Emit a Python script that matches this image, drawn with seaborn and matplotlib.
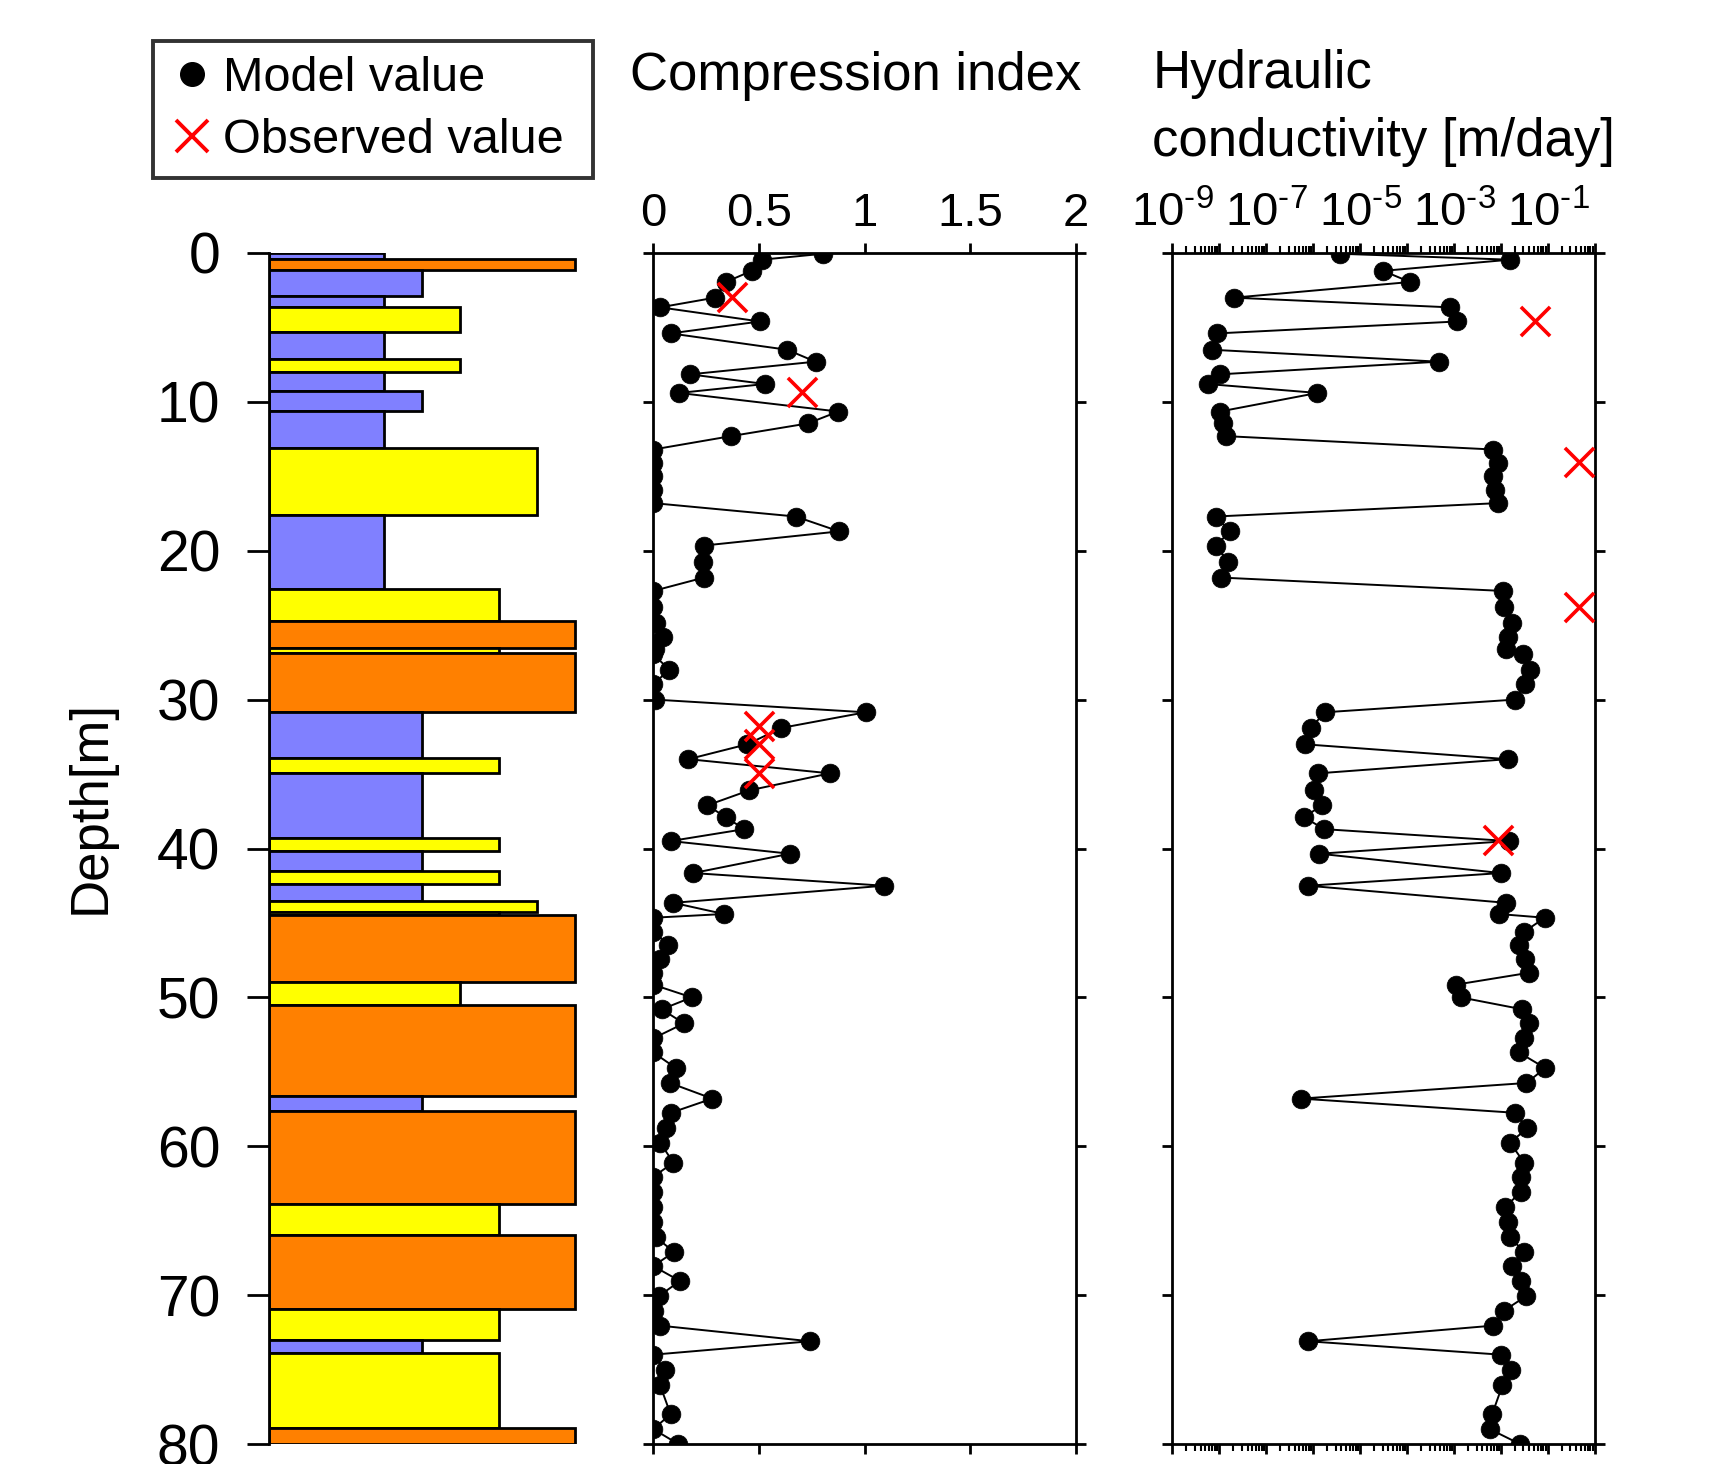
import matplotlib
matplotlib.use('Agg')
import matplotlib.pyplot as plt
from matplotlib.lines import Line2D
from matplotlib.ticker import LogLocator, NullFormatter
import seaborn as sns
import numpy as np

sns.set_style('ticks')
plt.rcParams['font.family'] = ['Liberation Sans', 'DejaVu Sans']
plt.rcParams['mathtext.fontset'] = 'custom'
plt.rcParams['mathtext.rm'] = 'Liberation Sans'
plt.rcParams['mathtext.it'] = 'Liberation Sans:italic'
plt.rcParams['mathtext.bf'] = 'Liberation Sans:bold'
# plain black text and axes like the original
for key in ['text.color', 'axes.labelcolor', 'xtick.color', 'ytick.color', 'axes.edgecolor']:
    plt.rcParams[key] = 'black'

# soil column: layer top depth [m] and grain class (3-4 clay, 5-7 sand, 8 gravel)
layer_top = [0.0, 0.4, 1.15, 2.9, 3.6, 5.3, 7.1, 8.0, 9.25, 10.6,
             13.1, 17.6, 22.6, 24.7, 26.5, 26.9, 30.8, 33.9, 34.9, 39.3,
             40.2, 41.5, 42.4, 43.5, 44.25, 44.5, 49.0, 50.5, 56.6, 57.6,
             63.9, 65.95, 70.9, 73.0, 73.9, 78.9]
layer_class = [3, 8, 4, 3, 5, 3, 5, 3, 4, 3,
               7, 3, 6, 8, 6, 8, 4, 6, 4, 6,
               4, 6, 4, 7, 6, 8, 5, 8, 4, 8,
               6, 8, 6, 4, 6, 8]
bottom_depth = 80.0
class_color = {3: '#8080FF', 4: '#8080FF', 5: '#FFFF00', 6: '#FFFF00',
               7: '#FFFF00', 8: '#FF8000'}

# model sample depths [m]
depth = [0.05, 0.45, 1.2, 1.95, 3.0, 3.65, 4.6, 5.4, 6.5, 7.3,
         8.15, 8.8, 9.4, 10.65, 11.45, 12.3, 13.2, 14.1, 15.0, 15.9,
         16.8, 17.7, 18.7, 19.65, 20.75, 21.8, 22.7, 23.8, 24.85, 25.8,
         26.6, 26.95, 28.0, 28.95, 30.0, 30.85, 31.9, 33.0, 34.0, 34.95,
         36.1, 37.1, 37.9, 38.7, 39.5, 40.35, 41.65, 42.5, 43.65, 44.4,
         44.65, 45.6, 46.45, 47.4, 48.35, 49.15, 50.0, 50.8, 51.75, 52.75,
         53.7, 54.75, 55.75, 56.8, 57.75, 58.8, 59.75, 61.1, 62.05, 63.1,
         64.05, 65.1, 66.1, 67.1, 68.05, 69.05, 70.05, 71.05, 72.05, 73.1,
         74.0, 75.05, 76.05, 78.0, 79.0, 80.0]

cc_model = [0.805, 0.513, 0.466, 0.343, 0.292, 0.032, 0.505, 0.082, 0.634, 0.768,
            0.174, 0.529, 0.122, 0.876, 0.731, 0.368, 0.0, 0.0, 0.0, 0.0,
            0.0, 0.674, 0.88, 0.24, 0.234, 0.24, 0.0, 0.0, 0.011, 0.047,
            0.008, 0.0, 0.076, 0.0, 0.01, 1.005, 0.607, 0.445, 0.166, 0.836,
            0.453, 0.256, 0.343, 0.431, 0.082, 0.647, 0.189, 1.092, 0.095, 0.335,
            0.0, 0.0, 0.071, 0.032, 0.0, 0.0, 0.182, 0.04, 0.145, 0.0,
            0.0, 0.107, 0.079, 0.279, 0.084, 0.06, 0.032, 0.095, 0.0, 0.0,
            0.0, 0.0, 0.011, 0.098, 0.0, 0.126, 0.028, 0.003, 0.032, 0.742,
            0.0, 0.055, 0.032, 0.082, 0.0, 0.118]

# log10 of hydraulic conductivity [m/day]
logk_model = [-5.43, -1.815, -4.51, -3.94, -7.69, -3.09, -2.93, -8.04, -8.15, -3.33,
              -7.99, -8.25, -5.91, -7.99, -7.91, -7.86, -2.17, -2.06, -2.17, -2.12,
              -2.06, -8.07, -7.77, -8.07, -7.81, -7.97, -1.96, -1.94, -1.77, -1.86,
              -1.89, -1.53, -1.39, -1.48, -1.71, -5.75, -6.05, -6.18, -1.86, -5.89,
              -5.98, -5.82, -6.19, -5.77, -1.84, -5.87, -2.0, -6.11, -1.89, -2.05,
              -1.07, -1.51, -1.62, -1.48, -1.41, -2.97, -2.86, -1.55, -1.41, -1.51,
              -1.62, -1.06, -1.46, -6.26, -1.71, -1.44, -1.81, -1.51, -1.58, -1.58,
              -1.91, -1.86, -1.81, -1.51, -1.77, -1.58, -1.46, -1.94, -2.17, -6.11,
              -2.0, -1.78, -1.97, -2.19, -2.24, -1.6]

# observed values
cc_obs_depth = [2.96, 9.37, 31.77, 33.0, 34.95]
cc_obs = [0.371, 0.702, 0.502, 0.502, 0.502]
k_obs_depth = [4.55, 14.07, 23.75, 39.4]
logk_obs = [-1.28, -0.35, -0.35, -2.06]

k_model = 10.0 ** np.array(logk_model)
k_obs = 10.0 ** np.array(logk_obs)

W, H = 1709, 1464
fig = plt.figure(figsize=(W / 100, H / 100), dpi=100)

top_px, bot_px = 253, 1444
bottom = 1 - bot_px / H
height = (bot_px - top_px) / H
ax_soil = fig.add_axes([269 / W, bottom, (586.5 - 269) / W, height])
ax_cc = fig.add_axes([653.3 / W, bottom, (1075.7 - 653.3) / W, height])
ax_k = fig.add_axes([1172.3 / W, bottom, (1595 - 1172.3) / W, height])

# soil column
thick = np.diff(layer_top + [bottom_depth])
ax_soil.barh(layer_top, layer_class, height=thick, align='edge',
             color=[class_color[c] for c in layer_class],
             edgecolor='black', linewidth=2)
ax_soil.set_xlim(0, 8.3)
ax_soil.set_ylim(80, 0)
ax_soil.set_xticks([])
for s in ['top', 'right', 'bottom']:
    ax_soil.spines[s].set_visible(False)
ax_soil.spines['left'].set_linewidth(2)
ax_soil.set_yticks(range(0, 81, 10))
ax_soil.tick_params(axis='y', direction='out', length=16, width=2,
                    labelsize=41, pad=19)
ax_soil.set_ylabel('Depth[m]', fontsize=38)
ax_soil.yaxis.set_label_coords(116 / W, 1 - 807 / H, transform=fig.transFigure)

# compression index
sns.lineplot(x=cc_model, y=depth, sort=False, estimator=None, ax=ax_cc,
             color='black', linewidth=1.4, marker='o', markersize=13.5,
             markeredgecolor='black', markeredgewidth=0.5)
sns.scatterplot(x=cc_obs, y=cc_obs_depth, ax=ax_cc, marker='x', s=440,
                color='red', linewidth=2.6, zorder=5)
ax_cc.set_xlim(0, 2)
ax_cc.set_xticks([0, 0.5, 1, 1.5, 2])
ax_cc.set_xticklabels(['0', '0.5', '1', '1.5', '2'])

# hydraulic conductivity
sns.lineplot(x=k_model, y=depth, sort=False, estimator=None, ax=ax_k,
             color='black', linewidth=1.4, marker='o', markersize=13.5,
             markeredgecolor='black', markeredgewidth=0.5)
sns.scatterplot(x=k_obs, y=k_obs_depth, ax=ax_k, marker='x', s=440,
                color='red', linewidth=2.6, zorder=5)
ax_k.set_xscale('log')
ax_k.set_xlim(1e-9, 1e0)
dec = [10.0 ** e for e in range(-9, 1)]
ax_k.set_xticks(dec)
ax_k.set_xticklabels([r'$10^{\text{-%d}}$' % -e if e % 2 else '' for e in range(-9, 1)])
ax_k.xaxis.set_minor_locator(LogLocator(base=10, subs=np.arange(2, 10), numticks=20))
ax_k.xaxis.set_minor_formatter(NullFormatter())

for ax in (ax_cc, ax_k):
    ax.set_ylim(80, 0)
    ax.set_yticks(range(0, 81, 10))
    ax.set_xlabel('')
    ax.set_ylabel('')
    for s in ax.spines.values():
        s.set_visible(True)
        s.set_linewidth(2)
    ax.tick_params(axis='both', which='major', direction='out', length=7, width=2,
                   top=True, bottom=True, left=True, right=True,
                   labeltop=True, labelbottom=False, labelleft=False,
                   labelsize=34, pad=5)
    ax.tick_params(axis='x', which='minor', direction='out', length=5, width=1.5,
                   top=True, bottom=True)

ax_cc.set_title('Compression index', fontsize=38, x=0.479, y=1 + (253 - 76) / 1191,
                va='center', pad=0)
ax_k.set_title('Hydraulic\nconductivity [m/day]', fontsize=38,
               y=1 + (253 - 108) / 1191, va='center', pad=0,
               multialignment='left', linespacing=1.45)

handles = [Line2D([], [], linestyle='none', marker='o', color='black', markersize=17),
           Line2D([], [], linestyle='none', marker='x', color='red',
                  markersize=23, markeredgewidth=2.8)]
leg = fig.legend(handles, ['Model value', 'Observed value'], loc='upper left',
                 bbox_to_anchor=(153 / W, 1 - 176 / H, 440 / W, 135 / H),
                 mode='expand', fontsize=35, frameon=True, fancybox=False,
                 borderaxespad=0, borderpad=0.3, handlelength=1.0,
                 handletextpad=0.15, labelspacing=0.36)
leg.get_frame().set_edgecolor('black')
leg.get_frame().set_linewidth(2.8)

fig.savefig('out.png', dpi=100)
